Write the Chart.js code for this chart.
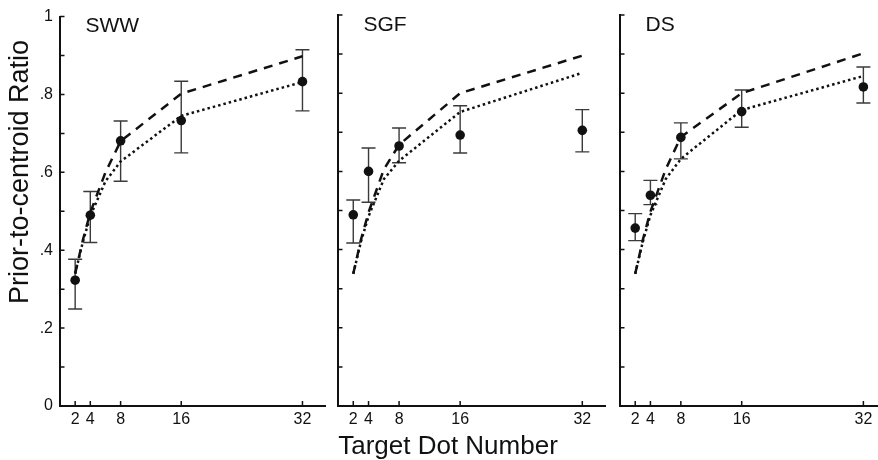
<!DOCTYPE html>
<html>
<head>
<meta charset="utf-8">
<script src="https://cdn.jsdelivr.net/npm/chart.js@4.4.1/dist/chart.umd.min.js"></script>
<style>
  body { margin: 0; background: #fff; }
  #wrap { position: relative; width: 878px; height: 460px; overflow: hidden; background: #fff; }
  canvas { position: absolute; top: 0; }
  .title { position: absolute; font-family: "Liberation Sans", Arial, sans-serif; color: #111; text-align: center; white-space: nowrap; }
  #ytitle { left: -131px; top: 157px; width: 300px; line-height: 30px; font-size: 27px; transform: rotate(-90deg); }
  #xtitle { left: 248px; top: 430px; width: 400px; line-height: 30px; font-size: 26px; }
</style>
</head>
<body>
<div id="wrap">
  <canvas id="c1" width="330" height="460" style="left:0px"></canvas>
  <canvas id="c2" width="280" height="460" style="left:330px"></canvas>
  <canvas id="c3" width="280" height="460" style="left:611px"></canvas>
  <div class="title" id="ytitle">Prior-to-centroid Ratio</div>
  <div class="title" id="xtitle">Target Dot Number</div>
</div>
<script>
// target dot numbers and axis ticks
const dotNumbers = [2, 4, 8, 16, 32];
const xTickValues = [2, 4, 8, 16, 32];
const yTickValues = [0, 0.1, 0.2, 0.3, 0.4, 0.5, 0.6, 0.7, 0.8, 0.9, 1];
const yTickLabels = ['0', '', '.2', '', '.4', '', '.6', '', '.8', '', '1'];

const panelNames = ['SWW', 'SGF', 'DS'];

// observed means and error bar limits per panel
const swwMean = [0.323, 0.490, 0.681, 0.733, 0.833];
const swwLow  = [0.249, 0.420, 0.577, 0.650, 0.758];
const swwHigh = [0.377, 0.551, 0.732, 0.834, 0.915];

const sgfMean = [0.489, 0.600, 0.665, 0.693, 0.705];
const sgfLow  = [0.417, 0.521, 0.622, 0.647, 0.650];
const sgfHigh = [0.527, 0.660, 0.711, 0.768, 0.758];

const dsMean = [0.455, 0.539, 0.687, 0.753, 0.816];
const dsLow  = [0.423, 0.515, 0.632, 0.713, 0.775];
const dsHigh = [0.492, 0.577, 0.724, 0.808, 0.867];

// model curves (dashed and dotted)
const modelX = [2, 3, 4, 6, 8, 16, 32];
const swwDashed = [0.340, 0.425, 0.497, 0.600, 0.680, 0.802, 0.898];
const swwDotted = [0.340, 0.420, 0.488, 0.577, 0.628, 0.745, 0.832];
const sgfDashed = [0.338, 0.425, 0.495, 0.605, 0.668, 0.800, 0.896];
const sgfDotted = [0.338, 0.420, 0.485, 0.580, 0.627, 0.752, 0.852];
const dsDashed  = [0.338, 0.425, 0.497, 0.605, 0.688, 0.800, 0.902];
const dsDotted  = [0.338, 0.420, 0.488, 0.580, 0.632, 0.757, 0.844];

function toPoints(xs, ys) {
  return xs.map((x, i) => ({ x: x, y: ys[i] }));
}

// error bars under the datasets
const errorBars = {
  id: 'errorBars',
  beforeDatasetsDraw(chart) {
    const ctx = chart.ctx;
    const xs = chart.scales.x;
    const ys = chart.scales.y;
    chart.data.datasets.forEach((ds) => {
      if (!ds.errLow) return;
      ctx.save();
      ctx.strokeStyle = '#3a3a3a';
      ctx.lineWidth = 1.4;
      ds.data.forEach((p, i) => {
        const px = xs.getPixelForValue(p.x);
        const y1 = ys.getPixelForValue(ds.errLow[i]);
        const y2 = ys.getPixelForValue(ds.errHigh[i]);
        ctx.beginPath();
        ctx.moveTo(px, y1); ctx.lineTo(px, y2);
        ctx.moveTo(px - 7, y1); ctx.lineTo(px + 7, y1);
        ctx.moveTo(px - 7, y2); ctx.lineTo(px + 7, y2);
        ctx.stroke();
      });
      ctx.restore();
    });
  }
};

// inward tick marks and panel label
const innerTicks = {
  id: 'innerTicks',
  afterDraw(chart, args, opts) {
    const ctx = chart.ctx;
    const area = chart.chartArea;
    const xs = chart.scales.x;
    const ys = chart.scales.y;
    ctx.save();
    ctx.strokeStyle = '#111';
    ctx.lineWidth = 1.5;
    ctx.beginPath();
    ys.ticks.forEach((t) => {
      const py = ys.getPixelForValue(t.value);
      ctx.moveTo(area.left, py); ctx.lineTo(area.left + 4.5, py);
    });
    xs.ticks.forEach((t) => {
      const px = xs.getPixelForValue(t.value);
      ctx.moveTo(px, area.bottom); ctx.lineTo(px, area.bottom - 5);
    });
    ctx.stroke();
    ctx.fillStyle = '#111';
    ctx.font = '21px "Liberation Sans", Arial, sans-serif';
    ctx.textBaseline = 'alphabetic';
    ctx.fillText(opts.label, area.left + 25.5, area.top + 15.5);
    ctx.restore();
  }
};

function makePanel(id, name, mean, low, high, dashed, dotted, yWidth, padRight, showYLabels) {
  new Chart(document.getElementById(id), {
    type: 'scatter',
    data: {
      datasets: [
        {
          data: toPoints(dotNumbers, mean),
          errLow: low,
          errHigh: high,
          pointRadius: 4.8,
          pointBackgroundColor: '#111',
          pointBorderWidth: 0,
          showLine: false
        },
        {
          data: toPoints(modelX, dashed),
          showLine: true,
          pointRadius: 0,
          borderColor: '#111',
          borderWidth: 2.5,
          borderDash: [9, 7]
        },
        {
          data: toPoints(modelX, dotted),
          showLine: true,
          pointRadius: 0,
          borderColor: '#111',
          borderWidth: 2.5,
          borderDash: [2.5, 3]
        }
      ]
    },
    options: {
      responsive: false,
      animation: false,
      devicePixelRatio: 1,
      layout: { padding: { left: 0, right: padRight, top: 15, bottom: 0 } },
      plugins: {
        legend: { display: false },
        tooltip: { enabled: false },
        innerTicks: { label: name }
      },
      scales: {
        x: {
          type: 'linear',
          min: 0,
          max: 35,
          afterBuildTicks(scale) { scale.ticks = xTickValues.map((v) => ({ value: v })); },
          afterFit(scale) { scale.height = 54; },
          grid: { display: false, drawTicks: false },
          border: { display: true, color: '#111', width: 2 },
          ticks: {
            padding: 4,
            color: '#111',
            maxRotation: 0,
            font: { family: '"Liberation Sans", Arial, sans-serif', size: 16 },
            callback: (v) => String(v)
          }
        },
        y: {
          type: 'linear',
          min: 0,
          max: 1,
          afterBuildTicks(scale) { scale.ticks = yTickValues.map((v) => ({ value: v })); },
          afterFit(scale) { scale.width = yWidth; },
          grid: { display: false, drawTicks: false },
          border: { display: true, color: '#111', width: 2 },
          ticks: {
            display: showYLabels,
            padding: 7,
            color: '#111',
            font: { family: '"Liberation Sans", Arial, sans-serif', size: 16 },
            callback: (v, i) => yTickLabels[i]
          }
        }
      }
    },
    plugins: [errorBars, innerTicks]
  });
}

makePanel('c1', panelNames[0], swwMean, swwLow, swwHigh, swwDashed, swwDotted, 60, 3.3, true);
makePanel('c2', panelNames[1], sgfMean, sgfLow, sgfHigh, sgfDashed, sgfDotted, 8, 4.25, false);
makePanel('c3', panelNames[2], dsMean, dsLow, dsHigh, dsDashed, dsDotted, 9, 4.6, false);
</script>
</body>
</html>
